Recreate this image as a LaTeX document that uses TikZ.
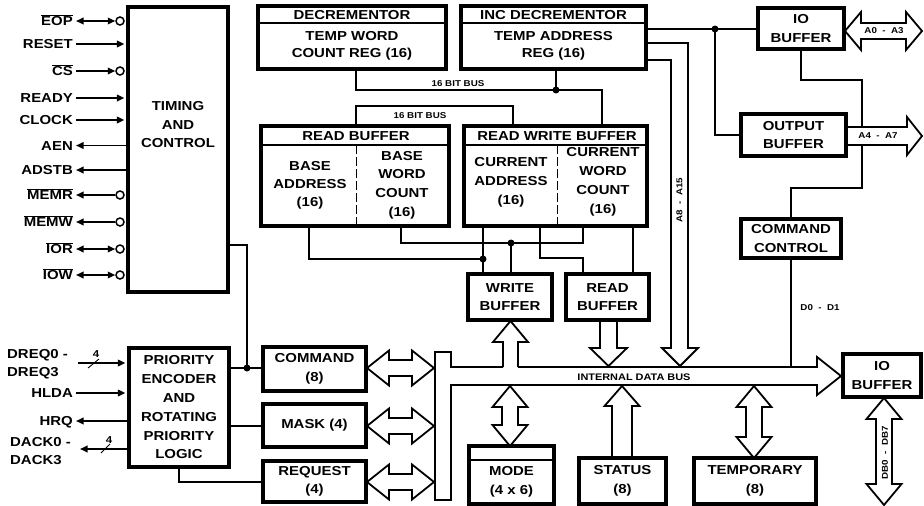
\documentclass[tikz,border=0pt]{standalone}
\usepackage{fontspec}
\setmainfont{Liberation Sans}[FakeStretch=1.15]
\usetikzlibrary{arrows.meta}
\pgfdeclarelayer{background}
\pgfsetlayers{background,main}
\newcommand\ovl[1]{$\overline{\mbox{#1}}$}
\newcommand\bxf{\fontsize{13}{18.5}\selectfont\bfseries}
\newcommand\smf{\fontsize{8.5}{9}\selectfont\bfseries}
\newcommand\hdarr[3]{\draw[bus] (#1,#3) -- ({#1+22},{#3-17.5}) -- ({#1+22},{#3-8}) -- ({#2-22},{#3-8}) -- ({#2-22},{#3-17.5}) -- (#2,#3) -- ({#2-22},{#3+17.5}) -- ({#2-22},{#3+8}) -- ({#1+22},{#3+8}) -- ({#1+22},{#3+17.5}) -- cycle;}
\newcommand\vdarr[3]{\draw[bus] (#1,#2) -- ({#1+17.5},{#2+21}) -- ({#1+8},{#2+21}) -- ({#1+8},{#3-21}) -- ({#1+17.5},{#3-21}) -- (#1,#3) -- ({#1-17.5},{#3-21}) -- ({#1-8},{#3-21}) -- ({#1-8},{#2+21}) -- ({#1-17.5},{#2+21}) -- cycle;}
\begin{document}
\begin{tikzpicture}[x=1pt,y=-1pt,
  >={Triangle[length=7.5pt,width=6.5pt]},
  box/.style={draw, line width=3.6pt, fill=white, inner sep=0pt, align=center, font=\bxf},
  txt/.style={align=center, font=\bxf, inner sep=0pt},
  siglab/.style={font=\bxf, anchor=east, inner sep=3pt, text height=9.3pt, text depth=0pt},
  wire/.style={line width=2pt},
  sig/.style={line width=1.8pt},
  bub/.style={circle, draw, line width=1.5pt, minimum size=8pt, inner sep=0pt, fill=white},
  dot/.style={circle, fill, inner sep=0pt, minimum size=7pt},
  small/.style={font=\smf, inner sep=0pt},
  bus/.style={line width=1.8pt, fill=white, line join=miter},
  busline/.style={line width=1.8pt, line join=miter},
  thinl/.style={line width=1.1pt},
  divl/.style={line width=0.9pt, dash pattern=on 9pt off 3pt},
]
\path[use as bounding box] (0,0) rectangle (924,506);

% ---------- boxes ----------
\node[box, minimum width=100pt, minimum height=285pt] (tc) at (178,149.5) {};
\node[txt] (tct) at (178,125) {TIMING\\AND\\CONTROL};
\node[box, minimum width=100pt, minimum height=119pt, font=\fontsize{13}{18.8}\selectfont\bfseries] (pe) at (179,407.5) {PRIORITY\\ENCODER\\AND\\ROTATING\\PRIORITY\\LOGIC};
\node[box, minimum width=103pt, minimum height=44pt] (cmd) at (314.5,369) {COMMAND\\(8)};
\node[box, minimum width=103pt, minimum height=43pt] (mask) at (314.5,425.5) {MASK (4)};
\node[box, minimum width=103pt, minimum height=41pt] (req) at (314.5,481.5) {REQUEST\\(4)};
\node[box, minimum width=188pt, minimum height=63pt] (dec) at (352,37.5) {};
\node[box, minimum width=185pt, minimum height=63pt] (inc) at (553.5,37.5) {};
\node[box, minimum width=188pt, minimum height=100pt] (rb) at (355,176) {};
\node[box, minimum width=183pt, minimum height=100pt] (rwb) at (555.5,176) {};
\node[box, minimum width=84pt, minimum height=46pt] (wb) at (510,297) {WRITE\\BUFFER};
\node[box, minimum width=83pt, minimum height=46pt] (rdb) at (607.5,297) {READ\\BUFFER};
\node[box, minimum width=86pt, minimum height=41pt] (iob1) at (801,28.5) {IO\\BUFFER};
\node[box, minimum width=105pt, minimum height=42pt] (ob) at (793.5,135) {OUTPUT\\BUFFER};
\node[box, minimum width=100pt, minimum height=39pt] (cc) at (791,238.5) {COMMAND\\CONTROL};
\node[box, minimum width=78pt, minimum height=43pt] (iob2) at (882,375.5) {IO\\BUFFER};
\node[box, minimum width=85pt, minimum height=58pt] (mode) at (511.5,475) {};
\node[txt] (modet) at (511.5,482) {MODE\\(4 x 6)};
\node[box, minimum width=87pt, minimum height=46pt] (status) at (622.5,481) {STATUS\\(8)};
\node[box, minimum width=122pt, minimum height=46pt] (temp) at (755,481) {TEMPORARY\\(8)};

% headers and dividers
\draw[thinl] (dec.west |- 0,23) -- (dec.east |- 0,23);
\draw[thinl] (inc.west |- 0,23) -- (inc.east |- 0,23);
\node[txt] (dech) at (352,15.5) {DECREMENTOR};
\node[txt, font=\fontsize{13}{17}\selectfont\bfseries] (decb) at (352,46) {TEMP WORD\\COUNT REG (16)};
\node[txt] (inch) at (553.5,15.5) {INC DECREMENTOR};
\node[txt, font=\fontsize{13}{17}\selectfont\bfseries] (incb) at (553.5,46) {TEMP ADDRESS\\REG (16)};

\draw[thinl] (rb.west |- 0,145) -- (rb.east |- 0,145);
\draw[thinl] (rwb.west |- 0,145) -- (rwb.east |- 0,145);
\draw[divl] (rb.south -| 356,0) ++(0,-1.8) -- (356,145);
\draw[divl] (rwb.south -| 557,0) ++(0,-1.8) -- (557,145);
\node[txt] (rbh) at (356,136.5) {READ BUFFER};
\node[txt] (rwbh) at (557,136.5) {READ WRITE BUFFER};
\node[txt, font=\fontsize{13}{18}\selectfont\bfseries] (rba) at (310,185) {BASE\\ADDRESS\\(16)};
\node[txt, font=\fontsize{13}{18.7}\selectfont\bfseries] (rbw) at (402,185) {BASE\\WORD\\COUNT\\(16)};
\node[txt, font=\fontsize{13}{19}\selectfont\bfseries] (rwa) at (511,182.5) {CURRENT\\ADDRESS\\(16)};
\node[txt, font=\fontsize{13}{19}\selectfont\bfseries] (rww) at (603,181.5) {CURRENT\\WORD\\COUNT\\(16)};
\draw[thinl] (mode.west |- 0,460) -- (mode.east |- 0,460);

% ---------- dots ----------
\node[dot] (d1) at (247,368) {};
\node[dot] (d2) at (715,29) {};
\node[dot] (d3) at (556,90) {};
\node[dot] (d4) at (483,259) {};
\node[dot] (d5) at (511,243) {};

\begin{pgfonlayer}{background}
% ---------- wires ----------
\draw[wire] (tc.east |- 0,245) -| (d1.center);
\draw[wire] (pe.east |- d1) -- (cmd.west |- d1);
\draw[wire] (pe.east |- mask) -- (mask.west);
\draw[wire] (pe.south) |- (req.west);
\draw[wire] (inc.east |- d2) -- (iob1.west |- d2);
\draw[wire] (d2.center) |- (ob.west);
\draw[wire] (iob1.south) |- (862,80) |- (791,188) -- (cc.north);
\draw[wire] (cc.south) -- (cc.south |- 0,367);
\draw[wire] (dec.south -| 356,0) |- (602,90) -- (rwb.north -| 602,0);
\draw[wire] (inc.south -| d3) -- (d3.center);
\draw[wire] (rb.north -| 356,0) |- (513,106) -- (rwb.north -| 513,0);
\draw[wire] (rb.south -| 309,0) |- (d4.center);
\draw[wire] (rb.south -| 401,0) |- (583,243) -- (rwb.south -| 583,0);
\draw[wire] (d5.center) -- (wb.north -| d5);
\draw[wire] (rwb.south -| d4) -- (wb.north -| d4);
\draw[wire] (rwb.south -| 540,0) |- (583,258) -- (rdb.north -| 583,0);
\draw[wire] (rwb.south -| 633,0) -- (rdb.north -| 633,0);

% ---------- buses ----------
\draw[bus] (435,352) -- (451,352) -- (451,367) -- (817,367) -- (817,357) -- (841,376) -- (817,395) -- (817,385) -- (451,385) -- (451,500) -- (435,500) -- cycle;
\fill[white] (503,340) rectangle (518,368.8);
\draw[busline] (503,367) -- (503,342) -- (493,342) -- (510.5,321) -- (528,342) -- (518,342) -- (518,367);
\draw[bus] (600,320) -- (600,348) -- (590,348) -- (608.5,366) -- (627,348) -- (617,348) -- (617,320);
\draw[bus] (646,43) -- (688,43) -- (688,348) -- (698,348) -- (680,366) -- (662,348) -- (671,348) -- (671,60) -- (646,60);
\draw[bus] (612,458) -- (612,406) -- (604.5,406) -- (622,386) -- (639.5,406) -- (632,406) -- (632,458);
\vdarr{510}{386}{446}
\vdarr{754}{386}{458}
\vdarr{884}{398}{505}
\hdarr{367}{434}{368}
\hdarr{367}{434}{426}
\hdarr{367}{434}{482}
\draw[bus] (845,31) -- (861,12) -- (861,23) -- (906,23) -- (906,12) -- (922,31) -- (906,50) -- (906,39) -- (861,39) -- (861,50) -- cycle;
\draw[bus] (846,127) -- (907,127) -- (907,117) -- (922,136) -- (907,155) -- (907,145) -- (846,145);
\end{pgfonlayer}

% ---------- small labels ----------
\node[small] (l16a) at (458,84) {16 BIT BUS};
\node[small] (l16b) at (420,116) {16 BIT BUS};
\node[small, rotate=90] (la8) at (679.5,200) {A8 \ - \ A15};
\node[small] (la0) at (884,31) {A0 \ - \ A3};
\node[small] (la4) at (878,136) {A4 \ - \ A7};
\node[small] (ld0) at (820,308) {D0 \ - \ D1};
\node[small, rotate=90] (ldb) at (885,453) {DB0 \ - \ DB7};
\node[small, font=\fontsize{9.5}{10}\selectfont\bfseries] (lidb) at (634,377) {INTERNAL DATA BUS};

% ---------- timing and control signals ----------
\node[siglab] (sEOP) at (76,21) {\ovl{EOP}};
\node[bub] (bEOP) at (120,21) {};
\draw[sig,<->] (sEOP.east) -- (bEOP.west);
\node[siglab] (sRESET) at (76,44) {RESET};
\draw[sig,->,shorten >=1.8pt] (sRESET.east) -- (sRESET.east -| tc.west);
\node[siglab] (sCS) at (76,71) {\ovl{CS}};
\node[bub] (bCS) at (120,71) {};
\draw[sig,->] (sCS.east) -- (bCS.west);
\node[siglab] (sREADY) at (76,98) {READY};
\draw[sig,->,shorten >=1.8pt] (sREADY.east) -- (sREADY.east -| tc.west);
\node[siglab] (sCLOCK) at (76,120) {CLOCK};
\draw[sig,->,shorten >=1.8pt] (sCLOCK.east) -- (sCLOCK.east -| tc.west);
\node[siglab] (sAEN) at (76,145.5) {AEN};
\draw[sig,->] (sAEN.east -| tc.west) -- (sAEN.east);
\node[siglab] (sADSTB) at (76,170) {ADSTB};
\draw[sig,->] (sADSTB.east -| tc.west) -- (sADSTB.east);
\node[siglab] (sMEMR) at (76,195) {\ovl{MEMR}};
\node[bub] (bMEMR) at (120,195) {};
\draw[sig,->] (bMEMR.west) -- (sMEMR.east);
\node[siglab] (sMEMW) at (76,222) {\ovl{MEMW}};
\node[bub] (bMEMW) at (120,222) {};
\draw[sig,->] (bMEMW.west) -- (sMEMW.east);
\node[siglab] (sIOR) at (76,249) {\ovl{IOR}};
\node[bub] (bIOR) at (120,249) {};
\draw[sig,<->] (sIOR.east) -- (bIOR.west);
\node[siglab] (sIOW) at (76,275) {\ovl{IOW}};
\node[bub] (bIOW) at (120,275) {};
\draw[sig,<->] (sIOW.east) -- (bIOW.west);

% ---------- priority encoder signals ----------
\node[txt, anchor=west, align=left, font=\fontsize{13}{18}\selectfont\bfseries] (sDREQ) at (7,364) {DREQ0 -\\DREQ3};
\coordinate (cDREQ) at (78,363);
\draw[sig,->,shorten >=1.8pt] (cDREQ) -- (cDREQ -| pe.west);
\draw[line width=0.9pt] (88,368) -- (99,359);
\node[font=\fontsize{10}{10}\selectfont\bfseries, inner sep=0pt] (n4a) at (96,354) {4};
\node[siglab] (sHLDA) at (76,393) {HLDA};
\draw[sig,->,shorten >=1.8pt] (sHLDA.east) -- (sHLDA.east -| pe.west);
\node[siglab] (sHRQ) at (76,421) {HRQ};
\draw[sig,->] (sHRQ.east -| pe.west) -- (sHRQ.east);
\node[txt, anchor=west, align=left, font=\fontsize{13}{18}\selectfont\bfseries] (sDACK) at (10,451) {DACK0 -\\DACK3};
\coordinate (cDACK) at (80,449);
\draw[sig,->] (cDACK -| pe.west) -- (cDACK);
\draw[line width=0.9pt] (101,453) -- (110,444);
\node[font=\fontsize{10}{10}\selectfont\bfseries, inner sep=0pt] (n4b) at (109,440) {4};
\end{tikzpicture}
\end{document}
